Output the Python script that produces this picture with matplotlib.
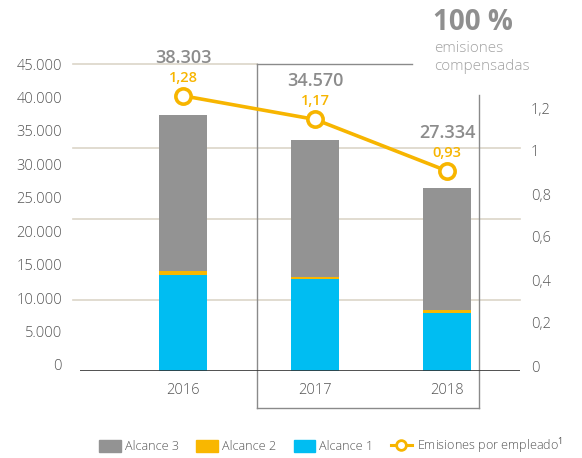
import matplotlib
matplotlib.use("Agg")
import matplotlib.pyplot as plt
from matplotlib.patches import Patch
from matplotlib.lines import Line2D
from matplotlib.transforms import ScaledTranslation

plt.rcParams['font.family'] = ['Open Sans', 'DejaVu Sans']
plt.rcParams['mathtext.fontset'] = 'custom'
plt.rcParams['mathtext.rm'] = 'Open Sans'
plt.rcParams['mathtext.it'] = 'Open Sans'

# Data
years = ["2016", "2017", "2018"]
totals = [38303, 34570, 27334]
alcance1 = [14400, 13770, 8680]
alcance2 = [550, 350, 450]
alcance3 = [t - a - b for t, a, b in zip(totals, alcance1, alcance2)]
per_employee = [1.28, 1.17, 0.93]
total_labels = ["38.303", "34.570", "27.334"]
per_employee_labels = ["1,28", "1,17", "0,93"]
left_ticks = [0, 5000, 10000, 15000, 20000, 25000, 30000, 35000, 40000, 45000]
left_tick_labels = ["0", "5.000", "10.000", "15.000", "20.000", "25.000",
                    "30.000", "35.000", "40.000", "45.000"]
right_ticks = [0, 0.2, 0.4, 0.6, 0.8, 1.0, 1.2]
right_tick_labels = ["0", "0,2", "0,4", "0,6", "0,8", "1", "1,2"]

GRAY = "#939393"
ORANGE = "#F9B700"
CYAN = "#00BDF2"
LINE = "#F7B500"
GRID = "#DCD5C8"
TXT = "#555555"

W, H = 582, 458
fig = plt.figure(figsize=(W / 100, H / 100), dpi=100)

def fx(px):
    return px / W

def fy(py):
    return 1 - py / H

ax = fig.add_axes([fx(80), fy(371), fx(520) - fx(80), fy(70) - fy(371)])
ax2 = ax.twinx()
ax.set_zorder(2)
ax2.set_zorder(3)
ax.patch.set_visible(False)

x = list(range(len(years)))
bw = 0.364
ax.bar(x, alcance1, bw, color=CYAN, zorder=3)
ax.bar(x, alcance2, bw, bottom=alcance1, color=ORANGE, zorder=3)
bottom3 = [a + b for a, b in zip(alcance1, alcance2)]
ax.bar(x, alcance3, bw, bottom=bottom3, color=GRAY, zorder=3)

ax.set_xlim(-0.78, 2.55)
ax.set_ylim(0, 45000)
ax.set_yticks(left_ticks)
ax.set_yticklabels(left_tick_labels)
ax.set_xticks(x)
ax.set_xticklabels(years)
ax.tick_params(axis='both', length=0, labelsize=10.5, colors=TXT)
ax.tick_params(axis='y', pad=13)
ax.tick_params(axis='x', pad=9)
lift = ScaledTranslation(0, 6 / 100, fig.dpi_scale_trans)
for lab in ax.get_yticklabels():
    lab.set_transform(lab.get_transform() + lift)
    lab.set_fontweight('light')
for lab in ax.get_xticklabels():
    lab.set_fontweight('light')
for s in ax.spines.values():
    s.set_visible(False)
ax.axhline(0, color="#333333", lw=1.2, zorder=4)

ax2.plot(x, per_employee, color=LINE, lw=2.6, marker='o', ms=11,
         mfc='white', mec=LINE, mew=2.6, zorder=5)
ax2.set_ylim(0, 1.4)
ax2.set_yticks(right_ticks)
ax2.set_yticklabels(right_tick_labels)
ax2.tick_params(axis='y', length=0, labelsize=10.5, colors=TXT, pad=8)
rlift = ScaledTranslation(0, 5 / 100, fig.dpi_scale_trans)
for lab in ax2.get_yticklabels():
    lab.set_transform(lab.get_transform() + rlift)
    lab.set_fontweight('light')
for s in ax2.spines.values():
    s.set_visible(False)

for xi, v, lab, tl in zip(x, per_employee, per_employee_labels, total_labels):
    ax2.annotate(lab, (xi, v), xytext=(0, 18), textcoords='offset pixels',
                 ha='center', va='center', color=LINE, fontsize=10.5,
                 fontweight='semibold')
    ax2.annotate(tl, (xi, v), xytext=(0, 38), textcoords='offset pixels',
                 ha='center', va='center', color="#8C8C8C", fontsize=13,
                 fontweight='semibold')

# Decorative horizontal rules
for gy in [148, 219, 300]:
    fig.add_artist(Line2D([fx(73), fx(520)], [fy(gy), fy(gy)], color=GRID,
                          lw=1.2, zorder=0))
fig.add_artist(Line2D([fx(73), fx(257)], [fy(64), fy(64)], color=GRID,
                      lw=1.2, zorder=0))

# Highlight frame around the latest years
frame = dict(color="#8A8A8A", lw=1.0, zorder=1)
fig.add_artist(Line2D([fx(257), fx(412)], [fy(64), fy(64)], **frame))
fig.add_artist(Line2D([fx(257), fx(257)], [fy(64), fy(408)], **frame))
fig.add_artist(Line2D([fx(257), fx(479)], [fy(408), fy(408)], **frame))
fig.add_artist(Line2D([fx(479), fx(479)], [fy(95), fy(408)], **frame))

fig.text(fx(433), fy(23), "100 %", ha='left', va='center', fontsize=20,
         fontweight='bold', color="#8F8F8F")
fig.text(fx(434), fy(48), "emisiones", ha='left', va='center', fontsize=11,
         color="#A3A3A3", fontweight='light')
fig.text(fx(434), fy(67), "compensadas", ha='left', va='center', fontsize=11,
         color="#A3A3A3", fontweight='light')

handles = [
    Patch(color=GRAY, label="Alcance 3"),
    Patch(color=ORANGE, label="Alcance 2"),
    Patch(color=CYAN, label="Alcance 1"),
    Line2D([0], [0], color=LINE, lw=2.2, marker='o', ms=7, mfc='white',
           mec=LINE, mew=2, label=r"Emisiones por empleado$^{\rm 1}$"),
]
leg = fig.legend(handles=handles, loc='center', bbox_to_anchor=(fx(331), fy(446)),
                 ncol=4, frameon=False, fontsize=9.1, handlelength=1.7,
                 handleheight=1.05, columnspacing=1.35, handletextpad=0.35,
                 borderpad=0.2)
for t in leg.get_texts():
    t.set_color(TXT)
    t.set_fontweight('light')

fig.savefig("out.png", dpi=100)
